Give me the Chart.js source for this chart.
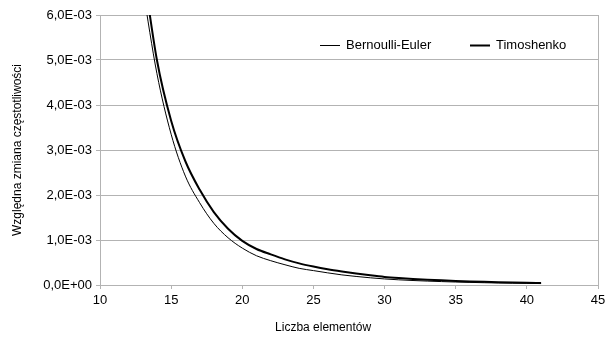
<!DOCTYPE html>
<html lang="pl">
<head>
  <meta charset="UTF-8">
  <title>Względna zmiana częstotliwości</title>
  <script src="https://cdn.jsdelivr.net/npm/chart.js"></script>
  <style>
    body { margin: 0; background: #fff; }
    #wrap { width: 610px; height: 338px; }
  </style>
</head>
<body>
  <div id="wrap"><canvas id="freqChart" width="610" height="338"></canvas></div>
  <script>
    // number of elements
    const nElements = [13, 14, 15, 16, 17, 18, 19, 20, 21, 22, 23, 24, 25, 26, 27,
      28, 29, 30, 31, 32, 33, 34, 35, 36, 37, 38, 39, 40, 41];
    // relative frequency change (x 1e-3)
    const bernoulliEuler = [6.6, 4.70, 3.35, 2.42, 1.83, 1.37, 1.05, 0.82, 0.65, 0.54, 0.45, 0.37, 0.32, 0.27, 0.225,
      0.19, 0.16, 0.135, 0.115, 0.10, 0.087, 0.076, 0.066, 0.058, 0.051, 0.045, 0.040, 0.036, 0.032];
    const timoshenko = [7.1, 5.0, 3.65, 2.75, 2.12, 1.62, 1.25, 0.98, 0.80, 0.68, 0.57, 0.48, 0.41, 0.35, 0.30,
      0.255, 0.215, 0.18, 0.155, 0.135, 0.118, 0.103, 0.09, 0.079, 0.07, 0.062, 0.055, 0.049, 0.044];
    const seriesNames = ['Bernoulli-Euler', 'Timoshenko'];
    const xTitle = 'Liczba elementów';
    const yTitle = 'Względna zmiana częstotliwości';

    const toPoints = vals => vals.map((v, i) => ({ x: nElements[i], y: v * 1e-3 }));

    // 6,0E-03 style labels
    function sciLabel(v) {
      if (Math.abs(v) < 1e-12) return '0,0E+00';
      let e = Math.floor(Math.log10(Math.abs(v)) + 1e-9);
      let m = v / Math.pow(10, e);
      const sign = e < 0 ? '-' : '+';
      const ee = String(Math.abs(e)).padStart(2, '0');
      return m.toFixed(1).replace('.', ',') + 'E' + sign + ee;
    }

    const gridGray = '#b3b3b3';
    const fontFamily = 'Liberation Sans, Arial, sans-serif';
    const font13 = { family: fontFamily, size: 13 };
    const font12 = { family: fontFamily, size: 12 };

    // legend inside the plot (top right) and the x axis title, like the office chart
    const insideLegend = {
      id: 'insideLegend',
      afterDraw(chart) {
        const { ctx, chartArea } = chart;
        const starts = [chartArea.left + 220, chartArea.left + 370];
        const y = chartArea.top + 30.5;
        ctx.save();
        ctx.font = '13px ' + fontFamily;
        ctx.textBaseline = 'middle';
        ctx.fillStyle = '#000';
        chart.data.datasets.forEach((ds, i) => {
          const x0 = starts[i];
          ctx.strokeStyle = ds.borderColor;
          ctx.lineWidth = ds.borderWidth;
          ctx.beginPath();
          ctx.moveTo(x0, y);
          ctx.lineTo(x0 + 20, y);
          ctx.stroke();
          ctx.fillText(ds.label, x0 + 26, y);
        });
        ctx.font = '12px ' + fontFamily;
        ctx.textAlign = 'center';
        ctx.fillText(xTitle, chartArea.left + (chartArea.right - chartArea.left) * 0.448, 328);
        ctx.restore();
      }
    };

    new Chart(document.getElementById('freqChart'), {
      type: 'line',
      data: {
        datasets: [
          { label: seriesNames[0], data: toPoints(bernoulliEuler), borderColor: '#000', backgroundColor: '#000',
            borderWidth: 1, pointRadius: 0, cubicInterpolationMode: 'monotone', fill: false },
          { label: seriesNames[1], data: toPoints(timoshenko), borderColor: '#000', backgroundColor: '#000',
            borderWidth: 2, pointRadius: 0, cubicInterpolationMode: 'monotone', fill: false }
        ]
      },
      options: {
        responsive: false,
        animation: false,
        devicePixelRatio: 1,
        layout: { padding: { left: 0, right: 12, top: 15, bottom: 0 } },
        plugins: {
          tooltip: { enabled: false },
          legend: { display: false }
        },
        scales: {
          x: {
            type: 'linear',
            min: 10, max: 45,
            ticks: { stepSize: 5, color: '#000', font: font13, padding: 4, maxRotation: 0 },
            grid: {
              color: c => (c.tick && c.tick.value === 45) ? gridGray : 'rgba(0,0,0,0)',
              tickColor: gridGray,
              tickLength: 4
            },
            border: { color: gridGray },
            afterFit: s => { s.height = 53; }
          },
          y: {
            min: 0, max: 0.006,
            ticks: { stepSize: 0.001, color: '#000', font: font13, padding: 4, callback: v => sciLabel(v) },
            grid: { color: gridGray, tickColor: gridGray, tickLength: 4 },
            border: { color: gridGray },
            title: { display: true, text: yTitle, color: '#000', font: font12, padding: { top: 10, bottom: 0 } },
            afterFit: s => { s.width = 100; }
          }
        }
      },
      plugins: [insideLegend]
    });
  </script>
</body>
</html>
